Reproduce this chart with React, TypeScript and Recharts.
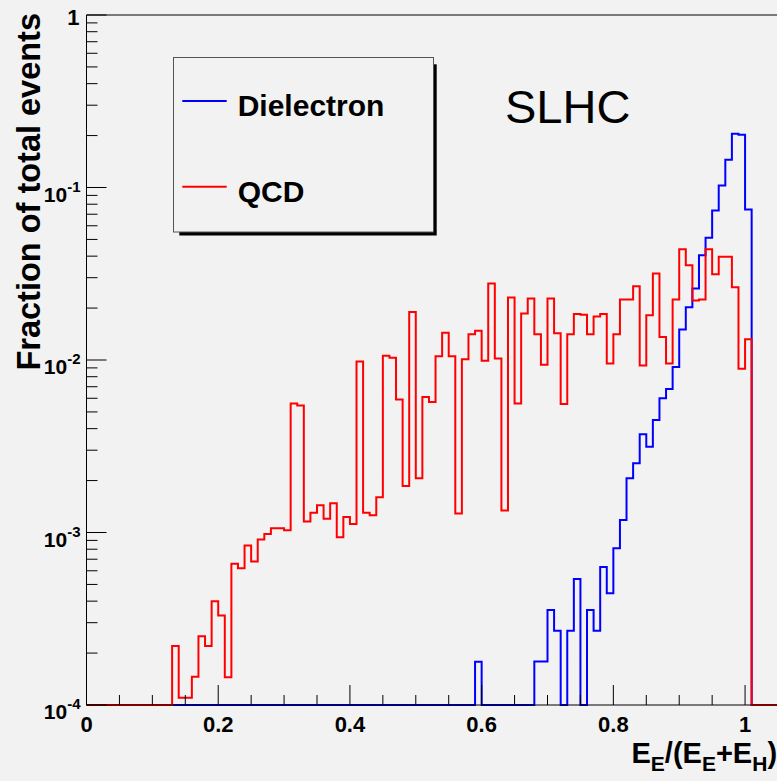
import React from 'react';
import { LineChart, Line, XAxis, YAxis, ReferenceLine, Legend } from 'recharts';

// Histogram: 105 bins of width 0.01 from 0 to 1.05 (fraction of total events)
const BIN_WIDTH = 0.01;
const X_MIN = 0;
const X_MAX = 1.05;
const Y_MIN = 1e-4;
const Y_MAX = 1;

const qcdValues = [
  0, 0, 0, 0, 0, 0, 0, 0, 0, 0,
  0, 0, 0, 2.2e-4, 1.1e-4, 1.1e-4, 1.46e-4, 2.5e-4, 2.2e-4, 4.0e-4,
  3.3e-4, 1.45e-4, 6.6e-4, 6.2e-4, 8.4e-4, 6.8e-4, 9.1e-4, 9.8e-4, 1.06e-3, 1.06e-3,
  1.03e-3, 5.6e-3, 5.45e-3, 1.16e-3, 1.3e-3, 1.44e-3, 1.2e-3, 1.48e-3, 9.4e-4, 1.23e-3,
  1.12e-3, 9.8e-3, 1.3e-3, 1.26e-3, 1.6e-3, 1.06e-2, 1.03e-2, 5.9e-3, 1.86e-3, 1.9e-2,
  2.06e-3, 6.1e-3, 5.7e-3, 1.05e-2, 1.44e-2, 1.05e-2, 1.29e-3, 1.01e-2, 1.41e-2, 1.48e-2,
  9.9e-3, 2.78e-2, 1.02e-2, 1.34e-3, 2.3e-2, 5.6e-3, 1.86e-2, 2.27e-2, 1.41e-2, 9.4e-3,
  2.27e-2, 1.43e-2, 5.55e-3, 1.41e-2, 1.85e-2, 1.83e-2, 1.41e-2, 1.79e-2, 1.85e-2, 9.55e-3,
  1.41e-2, 2.24e-2, 2.24e-2, 2.68e-2, 9.3e-3, 1.82e-2, 3.17e-2, 1.36e-2, 9.55e-3, 2.24e-2,
  4.39e-2, 3.54e-2, 2.21e-2, 2.24e-2, 4.39e-2, 3.14e-2, 3.97e-2, 3.97e-2, 2.64e-2, 8.9e-3,
  1.32e-2, 0, 0, 0, 0,
];

const dielectronValues = [
  0, 0, 0, 0, 0, 0, 0, 0, 0, 0,
  0, 0, 0, 0, 0, 0, 0, 0, 0, 0,
  0, 0, 0, 0, 0, 0, 0, 0, 0, 0,
  0, 0, 0, 0, 0, 0, 0, 0, 0, 0,
  0, 0, 0, 0, 0, 0, 0, 0, 0, 0,
  0, 0, 0, 0, 0, 0, 0, 0, 0, 1.78e-4,
  0, 0, 0, 0, 0, 0, 0, 0, 1.79e-4, 1.79e-4,
  3.56e-4, 2.69e-4, 0, 2.69e-4, 5.37e-4, 0, 3.56e-4, 2.69e-4, 6.3e-4, 4.45e-4,
  8.1e-4, 1.18e-3, 2.06e-3, 2.52e-3, 3.71e-3, 3.14e-3, 4.49e-3, 6.0e-3, 6.8e-3, 9.1e-3,
  1.5e-2, 2.02e-2, 2.6e-2, 4.05e-2, 5.11e-2, 7.35e-2, 0.1026, 0.145, 0.205, 0.202,
  7.45e-2, 0, 0, 0, 0,
];

const xMajorTicks = [0, 0.2, 0.4, 0.6, 0.8, 1];
const xMajorLabels = ['0', '0.2', '0.4', '0.6', '0.8', '1'];
const xMinorTicks = [0.05, 0.1, 0.15, 0.25, 0.3, 0.35, 0.45, 0.5, 0.55, 0.65, 0.7, 0.75, 0.85, 0.9, 0.95];

const yMajorTicks = [1e-4, 1e-3, 1e-2, 1e-1, 1];
const yMajorExponents = ['-4', '-3', '-2', '-1', ''];
const yMinorMultipliers = [2, 3, 4, 5, 6, 7, 8, 9];

const seriesNames = ['Dielectron', 'QCD'];
const seriesColors = ['#0000ff', '#ff0000'];

const FONT = '"Liberation Sans", Arial, Helvetica, sans-serif';

// Table for the library: one row per bin edge (stepAfter), empty bins sit on the frame floor.
const rows = Array.from({ length: qcdValues.length + 1 }, (_, i) => {
  const k = Math.min(i, qcdValues.length - 1);
  return {
    x: Number((X_MIN + i * BIN_WIDTH).toFixed(4)),
    diel: Math.max(dielectronValues[k], Y_MIN),
    qcd: Math.max(qcdValues[k], Y_MIN),
  };
});

const xTicks = [...xMajorTicks, ...xMinorTicks].sort((a, b) => a - b);
const yTicks: number[] = [];
yMajorTicks.forEach((d, i) => {
  yTicks.push(d);
  if (i < yMajorTicks.length - 1) yMinorMultipliers.forEach((m) => yTicks.push(Number((d * m).toPrecision(3))));
});

const renderXTick = (props: any) => {
  const { x, y, payload } = props;
  const v = payload.value;
  const mi = xMajorTicks.findIndex((t) => Math.abs(t - v) < 1e-6);
  const major = mi >= 0;
  return (
    <g>
      <line x1={x} x2={x} y1={y} y2={y - (major ? 20 : 10)} stroke="#000" strokeWidth={1} />
      {major && (
        <text x={x} y={y + 26.5} textAnchor="middle" fontFamily={FONT} fontWeight="bold" fontSize={22} fill="#000">
          {xMajorLabels[mi]}
        </text>
      )}
    </g>
  );
};

const renderYTick = (props: any) => {
  const { x, y, payload } = props;
  const v = payload.value;
  const mi = yMajorTicks.findIndex((t) => Math.abs(t - v) / t < 1e-6);
  const major = mi >= 0;
  const exp = major ? yMajorExponents[mi] : '';
  return (
    <g>
      <line x1={x} x2={x + (major ? 20 : 11)} y1={y} y2={y} stroke="#000" strokeWidth={1} />
      {major && exp === '' && (
        <text x={x - 7} y={y + 10} textAnchor="end" fontFamily={FONT} fontWeight="bold" fontSize={22} fill="#000">
          1
        </text>
      )}
      {major && exp !== '' && (
        <text x={x - 6} y={y + 14} textAnchor="end" fontFamily={FONT} fontWeight="bold" fontSize={21} fill="#000">
          10
          <tspan dy={-10} fontSize={15}>
            {exp}
          </tspan>
        </text>
      )}
    </g>
  );
};

const renderLegend = (props: any) => {
  const items = props.payload || [];
  return (
    <svg width={276} height={190} style={{ display: 'block', overflow: 'visible' }}>
      <rect x={14.3} y={15.3} width={257.4} height={171.2} fill="#000" />
      <rect x={8.5} y={8.5} width={260} height={174.5} fill="#f2f2f2" stroke="#555" strokeWidth={1} />
      {items.map((it: any, i: number) => {
        const ly = 52 + i * 85.7;
        return (
          <g key={i}>
            <line x1={17.3} x2={61.7} y1={ly} y2={ly} stroke={it.color} strokeWidth={2} />
            <text x={72.7} y={ly + 15} fontFamily={FONT} fontWeight="bold" fontSize={30} fill="#000">
              {it.value}
            </text>
          </g>
        );
      })}
    </svg>
  );
};

export default function App() {
  return (
    <div
      style={{
        position: 'absolute',
        left: 0,
        top: 0,
        width: 777,
        height: 781,
        overflow: 'hidden',
        background: '#f2f2f2',
      }}
    >
      <LineChart
        width={800}
        height={781}
        data={rows}
        margin={{ top: 15, right: 22, bottom: 46, left: 26.5 }}
      >
        <XAxis
          dataKey="x"
          type="number"
          domain={[X_MIN, X_MAX]}
          ticks={xTicks}
          interval={0}
          tick={renderXTick}
          tickLine={false}
          tickSize={0}
          tickMargin={0}
          height={30}
          axisLine={{ stroke: '#000', strokeWidth: 1 }}
        />
        <YAxis
          type="number"
          scale="log"
          domain={[Y_MIN, Y_MAX]}
          ticks={yTicks}
          interval={0}
          tick={renderYTick}
          tickLine={false}
          tickSize={0}
          tickMargin={0}
          width={60}
          axisLine={{ stroke: '#000', strokeWidth: 1 }}
        />
        <ReferenceLine y={Y_MAX} stroke="#000" strokeWidth={1} />
        <Legend
          layout="vertical"
          align="center"
          verticalAlign="middle"
          width={276}
          height={190}
          wrapperStyle={{ left: 164.5, top: 49, width: 276, height: 190 }}
          content={renderLegend}
        />
        <Line
          type="stepAfter"
          dataKey="diel"
          name={seriesNames[0]}
          stroke={seriesColors[0]}
          strokeWidth={2}
          dot={false}
          activeDot={false}
          isAnimationActive={false}
        />
        <Line
          type="stepAfter"
          dataKey="qcd"
          name={seriesNames[1]}
          stroke={seriesColors[1]}
          strokeWidth={2}
          dot={false}
          activeDot={false}
          isAnimationActive={false}
        />
      </LineChart>
      <svg
        width={777}
        height={781}
        style={{ position: 'absolute', left: 0, top: 0, pointerEvents: 'none' }}
      >
        <text x={505} y={123} fontFamily={FONT} fontSize={47} fill="#000">
          SLHC
        </text>
        <text
          transform="translate(40,13) rotate(-90)"
          textAnchor="end"
          fontFamily={FONT}
          fontWeight="bold"
          fontSize={32.5}
          fill="#000"
        >
          Fraction of total events
        </text>
        <text x={631.5} y={763} fontFamily={FONT} fontWeight="bold" fontSize={29} fill="#000">
          E
          <tspan fontSize={21} dy={8}>
            E
          </tspan>
          <tspan fontSize={29} dy={-8}>
            /(E
          </tspan>
          <tspan fontSize={21} dy={8}>
            E
          </tspan>
          <tspan fontSize={29} dy={-8}>
            +E
          </tspan>
          <tspan fontSize={21} dy={8}>
            H
          </tspan>
          <tspan fontSize={29} dy={-8}>
            )
          </tspan>
        </text>
      </svg>
    </div>
  );
}
